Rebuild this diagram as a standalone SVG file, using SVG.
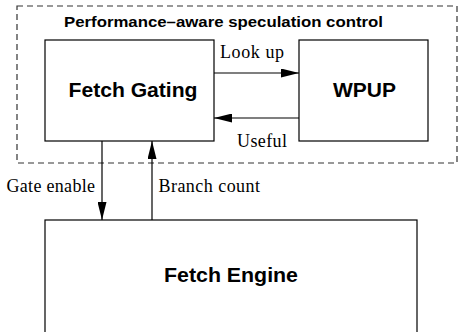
<svg xmlns="http://www.w3.org/2000/svg" width="459" height="332" viewBox="0 0 459 332">
<style>
.box{fill:#fff;stroke:#000;stroke-width:1.2}
.grp{fill:none;stroke:#333;stroke-width:1.2;stroke-dasharray:6,4}
.lbl{font-family:"Liberation Sans",Arial,sans-serif;font-weight:bold;fill:#000}
.ser{font-family:"Liberation Serif","Times New Roman",serif;font-size:18px;fill:#000}
.conn{stroke:#000;stroke-width:1.2;fill:none}
</style>
<defs>
<marker id="ah" viewBox="0 0 18 9" refX="18" refY="4.5" markerWidth="18" markerHeight="9" markerUnits="userSpaceOnUse" orient="auto">
<path d="M0,0 L18,4.5 L0,9 Z" fill="#000"/>
</marker>
</defs>
<rect width="459" height="332" fill="#fff"/>
<g id="speculation-control">
<rect class="grp" x="17" y="6" width="440" height="157"/>
<text class="lbl" x="64" y="27" font-size="15" textLength="319" lengthAdjust="spacingAndGlyphs">Performance–aware speculation control</text>
</g>
<g id="fetch-gating">
<rect class="box" x="45" y="40" width="169" height="101"/>
<text class="lbl" x="68.5" y="96.5" font-size="20" textLength="129" lengthAdjust="spacingAndGlyphs">Fetch Gating</text>
</g>
<g id="wpup">
<rect class="box" x="299" y="40" width="129" height="101"/>
<text class="lbl" x="333" y="96.5" font-size="20" textLength="63" lengthAdjust="spacingAndGlyphs">WPUP</text>
</g>
<g id="fetch-engine">
<rect class="box" x="45" y="220" width="372" height="130"/>
<text class="lbl" x="164" y="281.5" font-size="20" textLength="134" lengthAdjust="spacingAndGlyphs">Fetch Engine</text>
</g>
<g id="connectors">
<line class="conn" x1="214" y1="73" x2="299" y2="73" marker-end="url(#ah)"/>
<line class="conn" x1="299" y1="118" x2="214" y2="118" marker-end="url(#ah)"/>
<line class="conn" x1="102" y1="141" x2="102" y2="220" marker-end="url(#ah)"/>
<line class="conn" x1="152" y1="220" x2="152" y2="141" marker-end="url(#ah)"/>
<text class="ser" x="220" y="58" textLength="64">Look up</text>
<text class="ser" x="237" y="146.5" textLength="50">Useful</text>
<text class="ser" x="6.5" y="191.5" textLength="88.5">Gate enable</text>
<text class="ser" x="158.5" y="191.5" textLength="101.5">Branch count</text>
</g>
</svg>
